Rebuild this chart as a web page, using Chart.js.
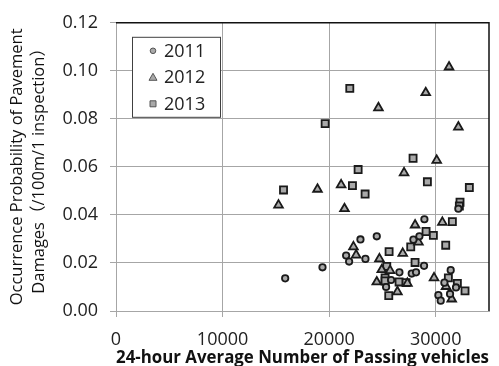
<!DOCTYPE html>
<html><head><meta charset="utf-8">
<script src="https://cdn.jsdelivr.net/npm/chart.js@4/dist/chart.umd.min.js"></script>
<style>html,body{margin:0;padding:0;background:#fff;}</style>
</head><body>
<canvas id="c" width="499" height="366"></canvas>
<script>
const seriesNames = ['2011', '2012', '2013'];
const xTicks = [0, 10000, 20000, 30000];
const yTicks = [0, 0.02, 0.04, 0.06, 0.08, 0.10, 0.12];
const xTitle = '24-hour Average Number of Passing vehicles';
const yTitle = ['Occurrence Probability of Pavement', 'Damages（/100m/1 inspection）'];

const x2011 = [15875, 19375, 22938, 24469, 21594, 21875, 23406, 28938, 27906, 28469, 32125, 26594, 25813, 25344, 27750, 28156, 28906, 31406, 30813, 31906, 30250, 30469, 31344];
const y2011 = [0.0136, 0.0182, 0.0298, 0.0311, 0.0231, 0.0206, 0.0217, 0.0382, 0.0297, 0.0311, 0.0426, 0.0161, 0.0129, 0.0100, 0.0156, 0.0161, 0.0188, 0.0170, 0.0118, 0.0098, 0.0066, 0.0043, 0.0071];

const x2012 = [31250, 29063, 24625, 32125, 30094, 27031, 21125, 18906, 15250, 21438, 28063, 30625, 28375, 26906, 22281, 22531, 24719, 24938, 25719, 24469, 27344, 26406, 29844, 30969, 31500];
const y2012 = [0.1016, 0.0909, 0.0846, 0.0766, 0.0627, 0.0575, 0.0525, 0.0507, 0.0441, 0.0426, 0.0358, 0.0369, 0.0287, 0.0240, 0.0267, 0.0233, 0.0217, 0.0172, 0.0168, 0.0121, 0.0115, 0.0080, 0.0138, 0.0102, 0.0050];

const x2013 = [21938, 19625, 15719, 22719, 22188, 23375, 27875, 29219, 33156, 32281, 32219, 31563, 29094, 29781, 27656, 30938, 25625, 28063, 25406, 25250, 25250, 26563, 27219, 25594, 31188, 32031, 32750];
const y2013 = [0.0927, 0.0780, 0.0504, 0.0589, 0.0522, 0.0487, 0.0636, 0.0538, 0.0514, 0.0453, 0.0437, 0.0372, 0.0331, 0.0315, 0.0267, 0.0274, 0.0247, 0.0202, 0.0186, 0.0138, 0.0125, 0.0121, 0.0118, 0.0064, 0.0138, 0.0115, 0.0084];

function pts(xs, ys) { return xs.map((x, i) => ({x: x, y: ys[i]})); }

const styles = [
  {pointStyle: 'circle', radius: 3.2},
  {pointStyle: 'triangle', radius: 5},
  {pointStyle: 'rect', radius: 5}
];
const allX = [x2011, x2012, x2013];
const allY = [y2011, y2012, y2013];

const datasets = seriesNames.map((name, i) => ({
  label: name,
  data: pts(allX[i], allY[i]),
  pointStyle: styles[i].pointStyle,
  pointRadius: styles[i].radius,
  pointBackgroundColor: '#a9a9a9',
  pointBorderColor: '#1a1a1a',
  pointBorderWidth: 1.8,
  showLine: false
}));

const framePlugin = {
  id: 'frame',
  afterDatasetsDraw(chart) {
    const {ctx, chartArea: a} = chart;
    ctx.save();
    ctx.strokeStyle = '#111';
    ctx.lineWidth = 1.5;
    ctx.beginPath();
    ctx.moveTo(a.left, a.top);
    ctx.lineTo(a.right, a.top);
    ctx.lineTo(a.right, a.bottom);
    ctx.stroke();
    ctx.restore();
  }
};

const legendPlugin = {
  id: 'boxLegend',
  afterDraw(chart) {
    const ctx = chart.ctx;
    const a = chart.chartArea;
    const bx = a.left + 16, by = a.top + 14, bw = 88, bh = 80;
    ctx.save();
    ctx.fillStyle = '#fff';
    ctx.fillRect(bx, by, bw, bh);
    ctx.strokeStyle = '#404040';
    ctx.lineWidth = 1;
    ctx.strokeRect(bx + 0.5, by + 0.5, bw, bh);
    chart.data.datasets.forEach((ds, i) => {
      const cy = by + 14 + i * 26.5;
      const cx = bx + 21;
      ctx.fillStyle = '#a9a9a9';
      ctx.strokeStyle = '#555';
      ctx.lineWidth = 1;
      ctx.beginPath();
      if (ds.pointStyle === 'circle') {
        ctx.arc(cx, cy, 2.8, 0, Math.PI * 2);
      } else if (ds.pointStyle === 'triangle') {
        ctx.moveTo(cx, cy - 4);
        ctx.lineTo(cx + 4, cy + 3);
        ctx.lineTo(cx - 4, cy + 3);
        ctx.closePath();
      } else {
        ctx.rect(cx - 3, cy - 3, 6, 6);
      }
      ctx.fill();
      ctx.stroke();
      ctx.fillStyle = '#222';
      ctx.font = '18px "Open Sans"';
      ctx.textBaseline = 'middle';
      ctx.textAlign = 'left';
      ctx.fillText(ds.label, cx + 11, cy + 1);
    });
    ctx.restore();
  }
};

new Chart(document.getElementById('c'), {
  type: 'scatter',
  data: {datasets: datasets},
  plugins: [framePlugin, legendPlugin],
  options: {
    responsive: false,
    animation: false,
    layout: {padding: {top: 16, right: 10, left: 0, bottom: 0}},
    plugins: {legend: {display: false}, tooltip: {enabled: false}},
    scales: {
      x: {
        type: 'linear', min: 0, max: 35000,
        afterBuildTicks: s => { s.ticks = xTicks.map(v => ({value: v})); },
        afterFit: s => { s.height = 55; },
        grid: {color: '#a6a6a6', lineWidth: 1, tickLength: 6},
        border: {color: '#a6a6a6'},
        ticks: {font: {family: 'Open Sans', size: 18}, color: '#222', padding: 12, maxRotation: 0, callback: v => String(v)},
        title: {display: true, text: xTitle, color: '#111', padding: 0,
          font: {family: 'Open Sans', size: 17.5, weight: 'bold', lineHeight: 0.9}}
      },
      y: {
        type: 'linear', min: 0, max: 0.12,
        afterBuildTicks: s => { s.ticks = yTicks.map(v => ({value: v})); },
        afterFit: s => { s.width = 116; },
        grid: {color: '#a6a6a6', lineWidth: 1, tickLength: 6},
        border: {color: '#a6a6a6'},
        ticks: {font: {family: 'Open Sans', size: 18}, color: '#222', padding: 12, callback: v => v.toFixed(2)},
        title: {display: true, text: yTitle, color: '#111', padding: {top: 6, bottom: 0},
          font: {family: '"Open Sans", "Noto Sans CJK JP"', size: 16.5, lineHeight: 1.35}}
      }
    }
  }
});
</script>
</body></html>
